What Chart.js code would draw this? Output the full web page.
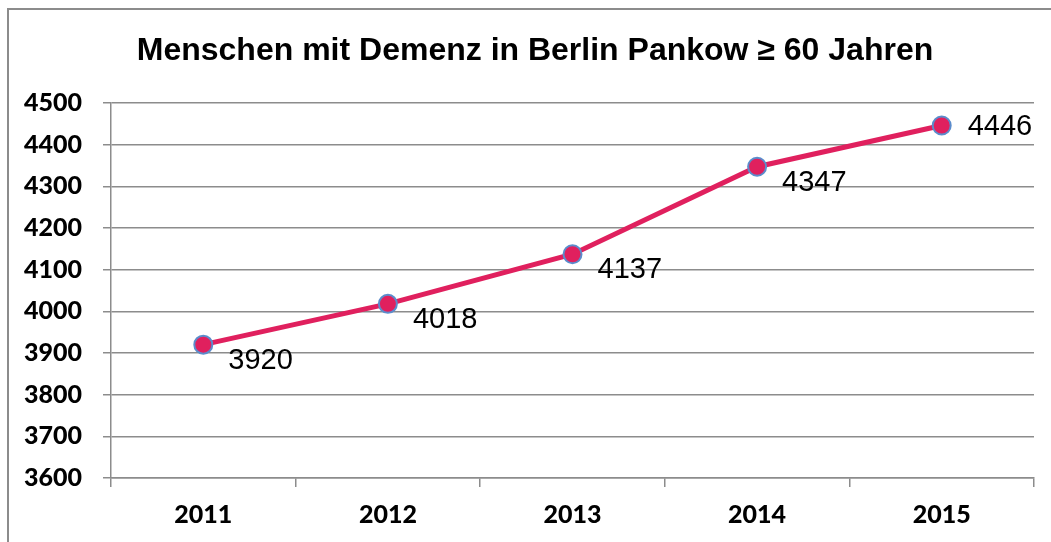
<!DOCTYPE html>
<html>
<head>
<meta charset="utf-8">
<script src="https://cdn.jsdelivr.net/npm/chart.js@4"></script>
<style>
  html, body { margin: 0; padding: 0; background: #fff; }
  #wrap { position: relative; width: 1051px; height: 542px; overflow: hidden; }
  #frame { position: absolute; left: 7px; top: 8px; width: 1100px; height: 600px;
           border-left: 2px solid #8c8c8c; border-top: 2px solid #8c8c8c; }
  canvas { position: absolute; left: 0; top: 0; }
</style>
</head>
<body>
<div id="wrap">
  <div id="frame"></div>
  <canvas id="chart" width="1051" height="542"></canvas>
</div>
<script>
// Data
const years = ['2011', '2012', '2013', '2014', '2015'];
const patients = [3920, 4018, 4137, 4347, 4446];
const titleText = 'Menschen mit Demenz in Berlin Pankow \u2265 60 Jahren';

const GRID = '#8c8c8c';
const LINE = '#e0205e';

// title drawn by hand so it can sit off the plot centre like the original
const titlePlugin = {
    id: 'titleText',
    afterDraw(chart) {
        const c = chart.ctx;
        c.save();
        c.font = 'bold 32px "Liberation Sans", Arial, sans-serif';
        c.fillStyle = '#000';
        c.textAlign = 'center';
        c.textBaseline = 'middle';
        c.fillText(titleText, 535, 51);
        c.restore();
    }
};

// value labels next to each marker
const valueLabels = {
    id: 'valueLabels',
    afterDatasetsDraw(chart) {
        const c = chart.ctx;
        const meta = chart.getDatasetMeta(0);
        c.save();
        c.font = '29px "Liberation Sans", Arial, sans-serif';
        c.fillStyle = '#000';
        c.textAlign = 'left';
        meta.data.forEach((pt, i) => {
            const last = i === meta.data.length - 1;
            if (last) {
                c.textBaseline = 'middle';
                c.fillText(String(patients[i]), pt.x + 26, pt.y + 1);
            } else {
                c.textBaseline = 'alphabetic';
                c.fillText(String(patients[i]), pt.x + 25, pt.y + 24);
            }
        });
        c.restore();
    }
};

new Chart(document.getElementById('chart'), {
    type: 'line',
    data: {
        labels: years,
        datasets: [{
            data: patients,
            borderColor: LINE,
            borderWidth: 5,
            backgroundColor: LINE,
            pointBackgroundColor: LINE,
            pointBorderColor: '#5b8ccc',
            pointBorderWidth: 2,
            pointRadius: 9,
            tension: 0
        }]
    },
    options: {
        responsive: false,
        animation: false,
        events: [],
        layout: { padding: { left: 0, top: 103, right: 17, bottom: 0 } },
        plugins: {
            legend: { display: false },
            tooltip: { enabled: false },
            title: { display: false }
        },
        scales: {
            x: {
                offset: true,
                afterFit: s => { s.height = 64; },
                grid: { color: GRID, lineWidth: 1.5, drawOnChartArea: false, tickLength: 9, offset: true },
                border: { color: GRID, width: 1.5 },
                ticks: {
                    color: '#000',
                    padding: 13,
                    font: { family: 'Lato', weight: '900', size: 25 }
                }
            },
            y: {
                min: 3600,
                max: 4500,
                afterFit: s => { s.width = 111; },
                grid: { color: GRID, lineWidth: 1.5, tickLength: 8 },
                border: { color: GRID, width: 1.5 },
                ticks: {
                    stepSize: 100,
                    color: '#000',
                    padding: 21,
                    callback: v => String(v),
                    font: { family: 'Lato', weight: '900', size: 25 }
                }
            }
        }
    },
    plugins: [titlePlugin, valueLabels]
});
</script>
</body>
</html>
